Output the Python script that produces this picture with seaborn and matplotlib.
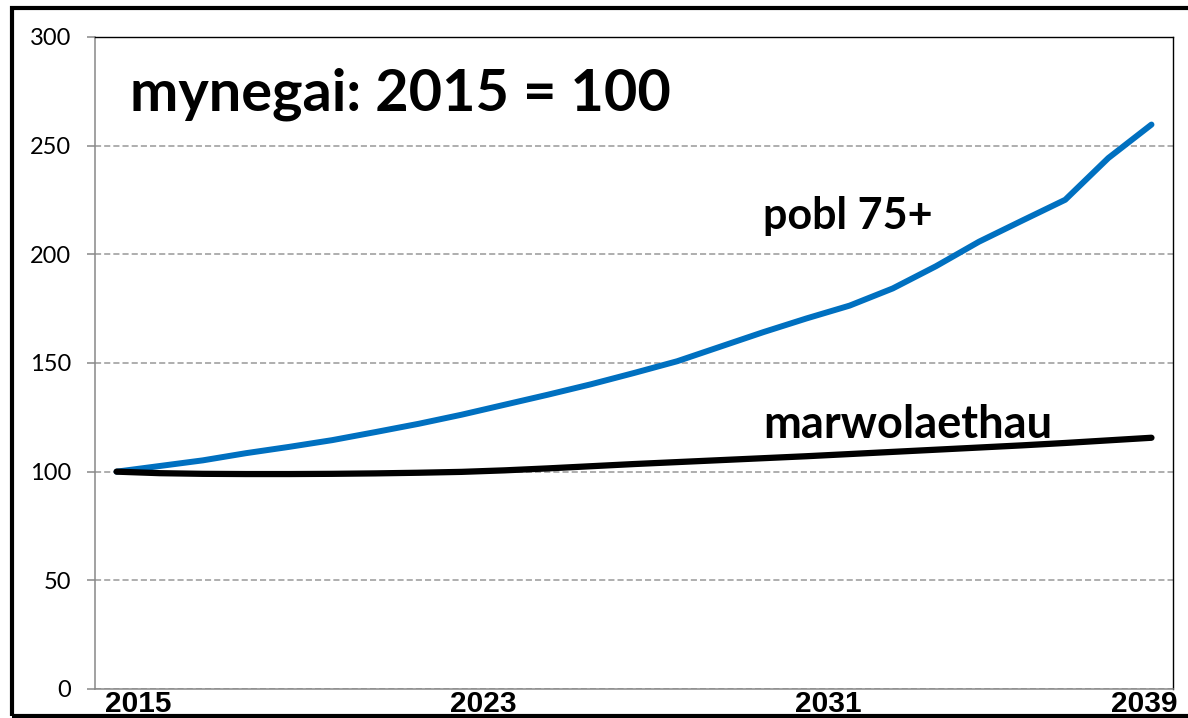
import matplotlib
matplotlib.use('Agg')
import matplotlib.pyplot as plt
import seaborn as sns
from matplotlib.patches import Rectangle

# ─────────────────────────────────────────────
# Datos
# ─────────────────────────────────────────────
years = list(range(2015, 2040))

pobl_75 = [100, 102.6, 105.2, 108.5, 111.4, 114.5, 118.2, 122.0, 126.2, 130.8,
           135.4, 140.2, 145.4, 150.8, 157.5, 164.2, 170.5, 176.4, 184.3, 194.5,
           205.8, 215.5, 225.1, 244.3, 259.7]

marwolaethau = [100, 99.3, 99.0, 98.9, 98.9, 99.0, 99.2, 99.5, 99.9, 100.6,
                101.5, 102.5, 103.5, 104.4, 105.3, 106.2, 107.1, 108.1, 109.1, 110.1,
                111.1, 112.1, 113.2, 114.4, 115.6]

year_labels = [2015, 2023, 2031, 2039]
y_ticks = [0, 50, 100, 150, 200, 250, 300]

title_text = "mynegai: 2015 = 100"
label_pobl = "pobl 75+"
label_marw = "marwolaethau"

# ─────────────────────────────────────────────
# Gráfico
# ─────────────────────────────────────────────
sns.set_theme(style="white")
plt.rcParams['font.family'] = ['Lato', 'DejaVu Sans']
plt.rcParams['text.color'] = 'black'
plt.rcParams['xtick.color'] = 'black'
plt.rcParams['ytick.color'] = 'black'

fig, ax = plt.subplots(figsize=(11.88, 7.18), dpi=100)
fig.subplots_adjust(left=0.08, right=0.9874, bottom=0.0404, top=0.9485)

sns.lineplot(x=years, y=pobl_75, color="#0070C0", lw=4.3, ax=ax,
             solid_capstyle="round")
sns.lineplot(x=years, y=marwolaethau, color="black", lw=4.5, ax=ax,
             solid_capstyle="round")

ax.set_xlim(years[0] - 0.5, years[-1] + 0.5)
ax.set_ylim(0, 300)

# grid
ax.set_yticks(y_ticks)
ax.yaxis.grid(True, color="#999999", ls=(0, (4, 2)), lw=1.1)
ax.xaxis.grid(False)
ax.set_axisbelow(True)

# eje Y
ax.tick_params(axis="y", which="major", left=True, length=6, width=1.1,
               color="#888888", pad=11, labelsize=17, labelcolor="black")

# eje X: etiquetas entre categorías, la última desplazada para que quepa
xt = [y + 0.5 for y in year_labels[:-1]] + [year_labels[-1] - 0.16]
ax.set_xticks(xt)
ax.set_xticklabels([str(y) for y in year_labels])
ax.tick_params(axis="x", bottom=False, length=0, pad=0.5, labelcolor="black")
for t in ax.get_xticklabels():
    t.set_fontfamily("Liberation Sans")
    t.set_fontweight("bold")
    t.set_fontsize(21.5)

for side in ["left", "bottom"]:
    ax.spines[side].set_color("#888888")
    ax.spines[side].set_linewidth(1.1)
for side in ["top", "right"]:
    ax.spines[side].set_color("black")
    ax.spines[side].set_linewidth(1.0)

# textos
ax.text(0.0325, 0.888, title_text, transform=ax.transAxes, color="black",
        fontsize=41.5, fontweight="bold", va="baseline", ha="left")
ax.text(2030, 211.5, label_pobl, fontsize=31, fontweight="bold", color="black",
        va="baseline", ha="left")
ax.text(2030, 115.5, label_marw, fontsize=32.5, fontweight="bold", color="black",
        va="baseline", ha="left")

# marco exterior
fig.add_artist(Rectangle((12 / 1188, 2 / 718), 1.2, 708 / 718,
                         transform=fig.transFigure, fill=False,
                         ec="black", lw=3.0, clip_on=False))

plt.savefig("out.png", dpi=100)
plt.close()
